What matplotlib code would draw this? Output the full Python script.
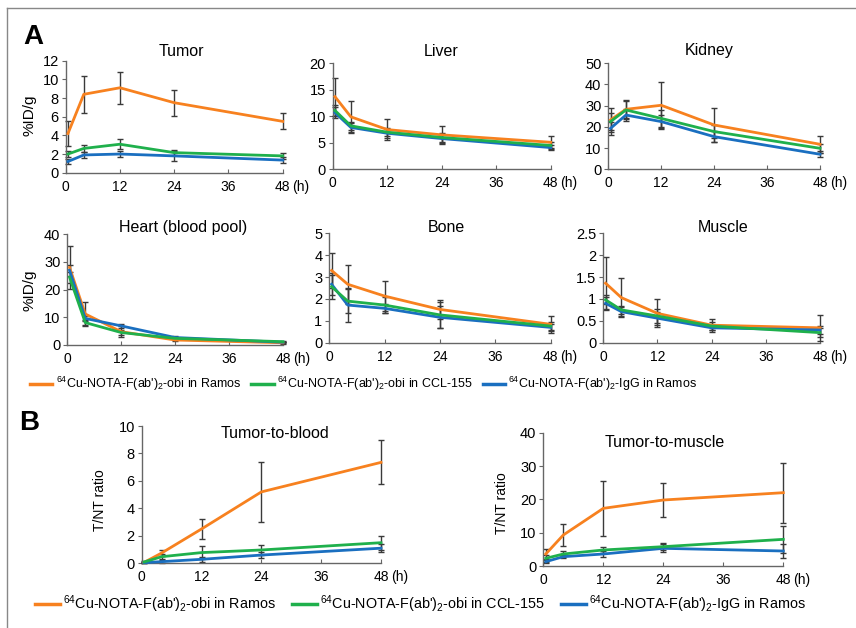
import numpy as np
import matplotlib.pyplot as plt
from matplotlib.lines import Line2D

plt.rcParams['font.family'] = ['Liberation Sans', 'DejaVu Sans']
plt.rcParams['mathtext.fontset'] = 'custom'
plt.rcParams['mathtext.rm'] = 'Liberation Sans'
plt.rcParams['mathtext.it'] = 'Liberation Sans'

# Data (time points in hours)
hours = [0.5, 4, 12, 24, 48]

tumor_ramos = [4.2, 8.4, 9.1, 7.5, 5.5]
tumor_ramos_err = [1.3, 2.0, 1.7, 1.4, 0.85]
tumor_ccl = [2.0, 2.6, 3.05, 2.15, 1.8]
tumor_ccl_err = [0.3, 0.4, 0.55, 0.3, 0.3]
tumor_igg = [1.2, 1.9, 2.0, 1.8, 1.35]
tumor_igg_err = [0.3, 0.3, 0.3, 0.5, 0.35]

liver_ramos = [13.7, 9.9, 7.5, 6.5, 5.1]
liver_ramos_err = [3.6, 3.0, 1.9, 1.7, 1.1]
liver_ccl = [11.1, 8.2, 7.0, 6.0, 4.5]
liver_ccl_err = [1.0, 0.8, 0.8, 0.8, 0.6]
liver_igg = [10.7, 7.9, 6.8, 5.8, 4.1]
liver_igg_err = [1.0, 0.8, 0.8, 0.8, 0.4]

kidney_ramos = [23.3, 28.3, 30.2, 20.9, 11.8]
kidney_ramos_err = [5.5, 4.5, 11.0, 8.0, 4.0]
kidney_ccl = [22.5, 28.0, 24.0, 17.8, 9.9]
kidney_ccl_err = [4.0, 4.0, 4.0, 3.0, 2.0]
kidney_igg = [19.3, 25.6, 22.5, 15.4, 7.1]
kidney_igg_err = [3.0, 3.0, 3.0, 2.5, 1.5]

heart_ramos = [28.0, 11.2, 4.8, 1.8, 0.8]
heart_ramos_err = [7.8, 4.5, 2.0, 0.5, 0.3]
heart_ccl = [24.5, 8.1, 4.5, 2.4, 1.2]
heart_ccl_err = [2.0, 1.0, 0.8, 0.4, 0.2]
heart_igg = [27.0, 9.6, 6.9, 2.7, 1.0]
heart_igg_err = [2.0, 1.0, 0.8, 0.4, 0.2]

bone_ramos = [3.3, 2.67, 2.13, 1.52, 0.84]
bone_ramos_err = [0.8, 0.9, 0.7, 0.45, 0.4]
bone_ccl = [2.56, 1.9, 1.72, 1.27, 0.76]
bone_ccl_err = [0.55, 0.55, 0.35, 0.6, 0.2]
bone_igg = [2.67, 1.72, 1.57, 1.16, 0.7]
bone_igg_err = [0.5, 0.76, 0.2, 0.5, 0.15]

muscle_ramos = [1.36, 1.03, 0.67, 0.4, 0.34]
muscle_ramos_err = [0.6, 0.45, 0.32, 0.15, 0.29]
muscle_ccl = [0.98, 0.75, 0.61, 0.38, 0.23]
muscle_ccl_err = [0.1, 0.1, 0.15, 0.1, 0.1]
muscle_igg = [0.9, 0.71, 0.56, 0.34, 0.29]
muscle_igg_err = [0.15, 0.1, 0.15, 0.05, 0.1]

tb_ramos = [0.07, 0.75, 2.5, 5.2, 7.35]
tb_ramos_err = [0.05, 0.2, 0.7, 2.2, 1.6]
tb_ccl = [0.1, 0.48, 0.78, 0.97, 1.5]
tb_ccl_err = [0.05, 0.2, 0.5, 0.35, 0.5]
tb_igg = [0.05, 0.12, 0.29, 0.6, 1.1]
tb_igg_err = [0.02, 0.1, 0.2, 0.2, 0.3]

tm_ramos = [3.6, 9.3, 17.3, 19.8, 22.0]
tm_ramos_err = [1.5, 3.3, 8.3, 5.2, 9.0]
tm_ccl = [2.3, 3.6, 4.8, 5.8, 8.0]
tm_ccl_err = [1.0, 0.8, 0.8, 1.0, 4.0]
tm_igg = [1.3, 2.8, 3.6, 5.3, 4.5]
tm_igg_err = [0.5, 0.5, 0.8, 1.2, 2.2]

series_labels = [r"$^{64}$Cu-NOTA-F(ab')$_2$-obi in Ramos",
                 r"$^{64}$Cu-NOTA-F(ab')$_2$-obi in CCL-155",
                 r"$^{64}$Cu-NOTA-F(ab')$_2$-IgG in Ramos"]
colors = ['#F7811F', '#1FB04C', '#1A6FC0']

W, H = 856, 628
fig = plt.figure(figsize=(W / 100, H / 100), dpi=100)


def add_panel(l, r, t, b, ymax, ystep, ylabels, title, tx, ty, data):
    ax = fig.add_axes([l / W, 1 - b / H, (r - l) / W, (b - t) / H])
    # draw order: orange, blue, green
    for idx in [0, 2, 1]:
        y, e = data[idx]
        ax.errorbar(hours, y, yerr=e, fmt='none', ecolor='#3a3a3a',
                    elinewidth=1, capsize=2, capthick=1, clip_on=False, zorder=2)
    for idx in [0, 2, 1]:
        y, e = data[idx]
        ax.plot(hours, y, color=colors[idx], lw=2, clip_on=False, zorder=3)
    ax.set_xlim(0, 48)
    ax.set_ylim(0, ymax)
    ax.set_xticks([0, 12, 24, 36, 48])
    ax.set_xticklabels(['0', '12', '24', '36', '48'], fontsize=10)
    yt = np.arange(0, ymax + ystep / 2, ystep)
    ax.set_yticks(yt)
    ax.set_yticklabels(ylabels, fontsize=10.5)
    ax.tick_params(axis='x', direction='in', length=3, pad=5, color='#666666')
    ax.tick_params(axis='y', direction='out', length=3, pad=2, color='#666666')
    for s in ['top', 'right']:
        ax.spines[s].set_visible(False)
    for s in ['left', 'bottom']:
        ax.spines[s].set_color('#666666')
        ax.spines[s].set_linewidth(1)
    ax.annotate('(h)', xy=(48, 0), xycoords='data', xytext=(7, -5),
                textcoords='offset points', ha='left', va='top', fontsize=10)
    fig.text(tx / W, 1 - ty / H, title, ha='center', va='center', fontsize=11.5)
    return ax


add_panel(65.7, 282.7, 60.7, 172.7, 12, 2, ['0', '2', '4', '6', '8', '10', '12'],
          'Tumor', 181, 51.5,
          [(tumor_ramos, tumor_ramos_err), (tumor_ccl, tumor_ccl_err), (tumor_igg, tumor_igg_err)])
add_panel(332.7, 550.7, 63.3, 169.3, 20, 5, ['0', '5', '10', '15', '20'],
          'Liver', 441, 51,
          [(liver_ramos, liver_ramos_err), (liver_ccl, liver_ccl_err), (liver_igg, liver_igg_err)])
add_panel(608.3, 820, 63.3, 169.3, 50, 10, ['0', '10', '20', '30', '40', '50'],
          'Kidney', 709, 50.7,
          [(kidney_ramos, kidney_ramos_err), (kidney_ccl, kidney_ccl_err), (kidney_igg, kidney_igg_err)])
add_panel(67.3, 283, 234.3, 345, 40, 10, ['0', '10', '20', '30', '40'],
          'Heart (blood pool)', 183, 227.3,
          [(heart_ramos, heart_ramos_err), (heart_ccl, heart_ccl_err), (heart_igg, heart_igg_err)])
add_panel(329.3, 550.7, 233.3, 342.7, 5, 1, ['0', '1', '2', '3', '4', '5'],
          'Bone', 446, 227.3,
          [(bone_ramos, bone_ramos_err), (bone_ccl, bone_ccl_err), (bone_igg, bone_igg_err)])
add_panel(603.3, 820, 233.3, 342.7, 2.5, 0.5, ['0', '0.5', '1', '1.5', '2', '2.5'],
          'Muscle', 723, 227,
          [(muscle_ramos, muscle_ramos_err), (muscle_ccl, muscle_ccl_err), (muscle_igg, muscle_igg_err)])
add_panel(141.7, 381, 426, 563.3, 10, 2, ['0', '2', '4', '6', '8', '10'],
          'Tumor-to-blood', 275, 434,
          [(tb_ramos, tb_ramos_err), (tb_ccl, tb_ccl_err), (tb_igg, tb_igg_err)])
add_panel(543.3, 783.3, 432.7, 566, 40, 10, ['0', '10', '20', '30', '40'],
          'Tumor-to-muscle', 665, 442.7,
          [(tm_ramos, tm_ramos_err), (tm_ccl, tm_ccl_err), (tm_igg, tm_igg_err)])

# y axis labels
fig.text(30 / W, 1 - 115 / H, '%ID/g', rotation=90, ha='center', va='center', fontsize=11)
fig.text(30 / W, 1 - 290 / H, '%ID/g', rotation=90, ha='center', va='center', fontsize=11)
fig.text(100 / W, 1 - 500 / H, 'T/NT ratio', rotation=90, ha='center', va='center', fontsize=10)
fig.text(502 / W, 1 - 503 / H, 'T/NT ratio', rotation=90, ha='center', va='center', fontsize=10)

# panel letters
fig.text(33 / W, 1 - 37 / H, 'A', ha='center', va='center', fontsize=20, fontweight='bold')
fig.text(29 / W, 1 - 423 / H, 'B', ha='center', va='center', fontsize=20, fontweight='bold')

# legends
handles = [Line2D([], [], color=c, lw=2.5) for c in colors]
fig.legend(handles, series_labels, loc='center left', bbox_to_anchor=(30 / W, 1 - 384 / H),
           ncol=3, frameon=False, handlelength=1.8, handletextpad=0.25,
           columnspacing=0.8, borderpad=0, borderaxespad=0,
           prop={'size': 9})
fig.legend(handles, series_labels, loc='center left', bbox_to_anchor=(35 / W, 1 - 604 / H),
           ncol=3, frameon=False, handlelength=1.7, handletextpad=0.25,
           columnspacing=1.1, borderpad=0, borderaxespad=0,
           prop={'size': 10.4})

# outer frame (top and left edges)
fig.add_artist(Line2D([7 / W, 1], [1 - 8 / H, 1 - 8 / H], color='#888888', lw=1))
fig.add_artist(Line2D([7 / W, 7 / W], [0, 1 - 8 / H], color='#888888', lw=1))

fig.savefig('out.png', dpi=100)
